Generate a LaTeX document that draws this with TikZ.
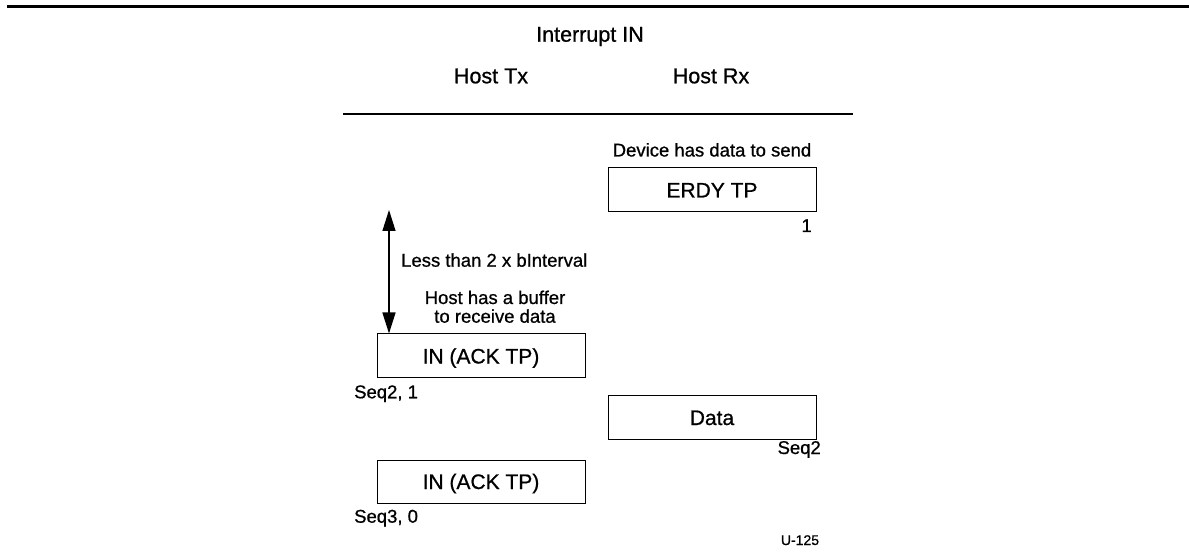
\documentclass[tikz,border=0pt]{standalone}
\usepackage{fontspec}
\setmainfont[FakeBold=0.8]{Liberation Sans}
\usetikzlibrary{arrows.meta,calc}
\tikzset{
  lbl/.style={inner sep=0pt, font=\fontsize{18.5bp}{20bp}\selectfont},
  hdr/.style={inner sep=0pt, font=\fontsize{21.5bp}{24bp}\selectfont},
  pkt/.style={draw, line width=1bp, minimum width=208bp, minimum height=44bp, inner sep=0pt,
    text height=15bp, text depth=0pt, font=\fontsize{21bp}{24bp}\selectfont},
  rule/.style={line width=1.3bp},
  span/.style={line width=1.3bp, {Triangle[length=21bp,width=13bp]}-{Triangle[length=21bp,width=13bp]}},
}
\begin{document}
\begin{tikzpicture}[x=1bp,y=-1bp]
\useasboundingbox (0,0) rectangle (1189,557);
% top rule
\coordinate (tl) at (7,6.5);
\coordinate (tr) at (1189,6.5);
\draw[line width=2.2bp] (tl) -- (tr);
% headers
\node[hdr, anchor=base] (title) at (590,41.7) {Interrupt IN};
\node[hdr, anchor=base] (htx) at (491,83.3) {Host Tx};
\node[hdr, anchor=base] (hrx) at (711,83.3) {Host Rx};
\coordinate (hl) at (343,114);
\coordinate (hr) at (853,114);
\draw[rule] (hl) -- (hr);
% ERDY
\node[lbl, anchor=base] (dev) at (712,156.5) {Device has data to send};
\node[pkt] (erdy) at (712,190) {ERDY TP};
\node[lbl, anchor=base east] (n1) at (812,232) {1};
% IN 1
\node[pkt] (in1) at (481,356) {IN (ACK TP)};
\node[lbl, anchor=base west] (s21) at (354,398.3) {Seq2, 1};
% interval arrow
\coordinate (atop) at (389,210);
\draw[span] (atop) -- (atop |- in1.north);
\node[lbl, anchor=base west] (less) at (401,266.7) {Less than 2 x bInterval};
\node[lbl, anchor=base, align=center] (buf1) at (495,304) {Host has a buffer};
\node[lbl, anchor=base, align=center] (buf2) at (495,322.7) {to receive data};
% Data
\node[pkt, minimum height=43bp] (data) at (712,417.5) {Data};
\node[lbl, anchor=base east] (s2) at (821,454) {Seq2};
% IN 2
\node[pkt, minimum height=43bp] (in2) at (481,481.5) {IN (ACK TP)};
\node[lbl, anchor=base west] (s30) at (354,522.7) {Seq3, 0};
% figure id
\node[inner sep=0pt, anchor=base, font=\fontsize{14bp}{16bp}\selectfont] (uid) at (800,545) {U-125};
\end{tikzpicture}
\end{document}
